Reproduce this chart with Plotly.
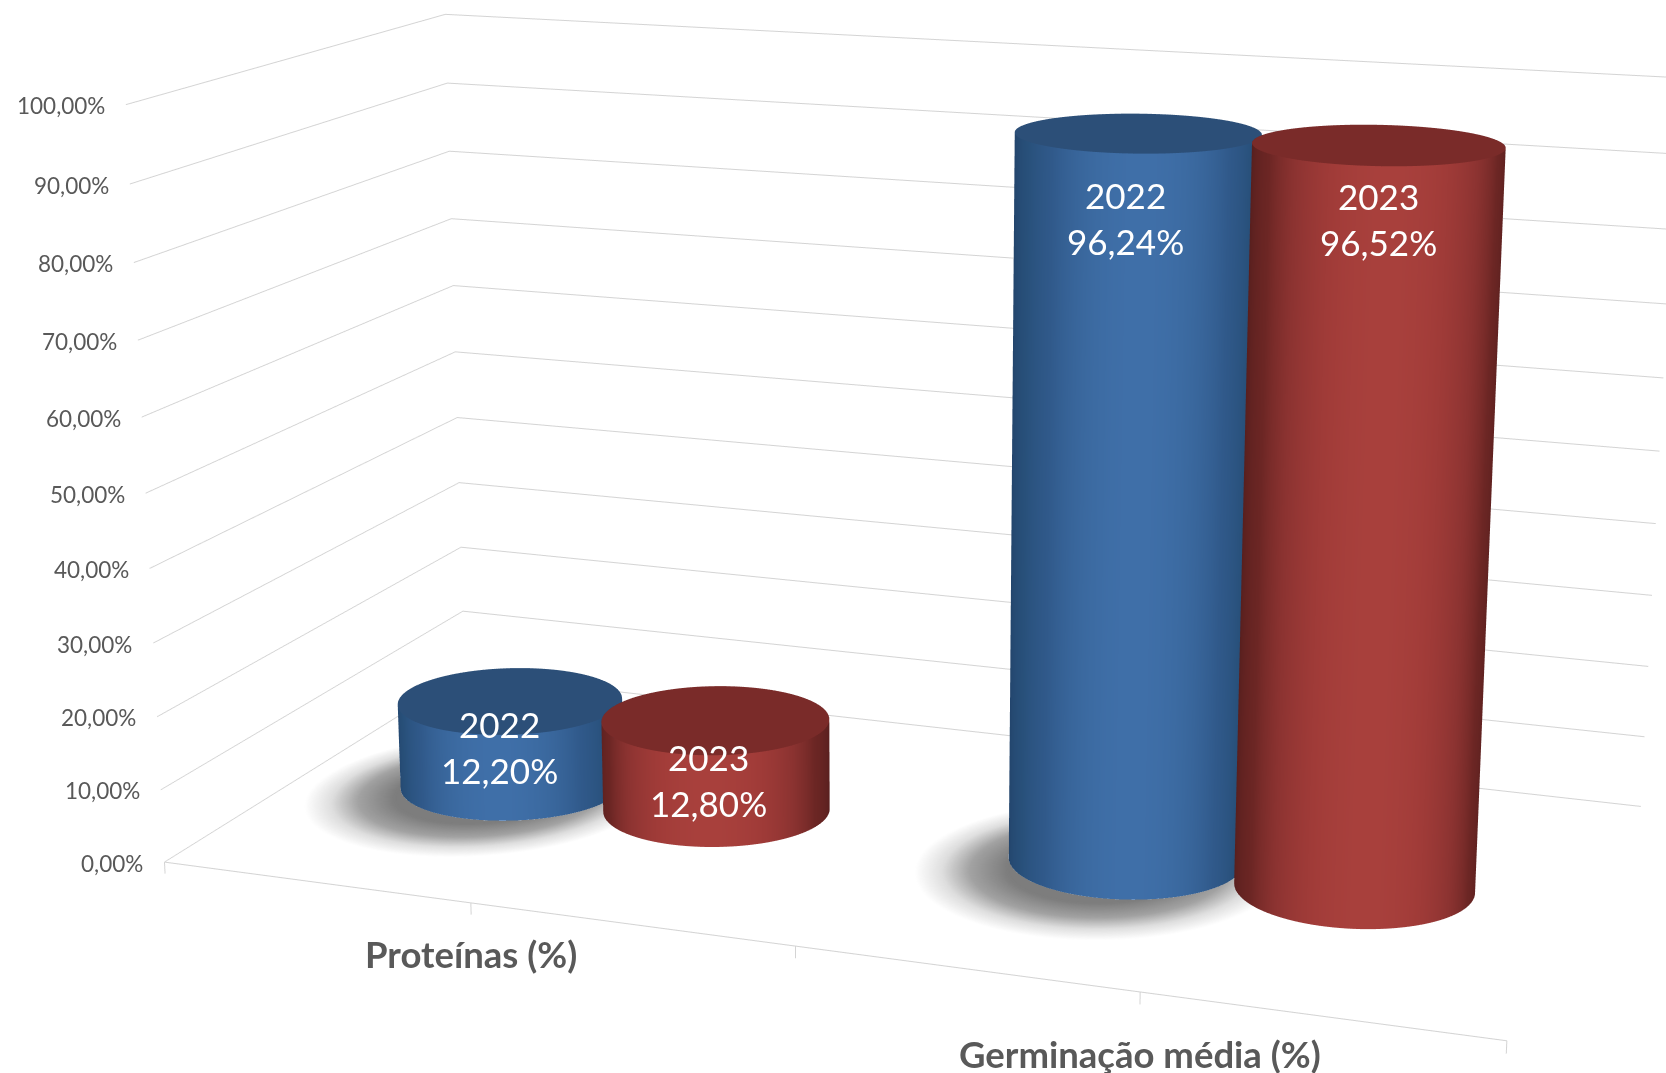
import numpy as np
import plotly.graph_objects as go

categories = ["Proteínas (%)", "Germinação média (%)"]
series_2022 = [12.20, 96.24]
series_2023 = [12.80, 96.52]
year_labels = ["2022", "2023"]
value_labels_2022 = ["12,20%", "96,24%"]
value_labels_2023 = ["12,80%", "96,52%"]
z_ticks = [0, 10, 20, 30, 40, 50, 60, 70, 80, 90, 100]
z_tick_labels = ["0,00%", "10,00%", "20,00%", "30,00%", "40,00%", "50,00%", "60,00%", "70,00%", "80,00%", "90,00%", "100,00%"]
cat_x = [1, 3]
x_edge_ticks = [0, 1, 2, 3, 4]

W, H = 1666, 1073
XR, YR, ZR = (0, 4), (0, 1), (-2, 100)

# camera matched to the reference's perspective (long lens, so the page is larger than the window)
E = np.array([1.6772, -4.6682, 1.2613])
yaw, pitch = -0.3521, -0.2680
ASPECT = (1.7448, 0.8755)
Hs, Ws, Tp, Lf = 3308, 1783, 1099, 1
fdir = np.array([np.cos(pitch)*np.sin(yaw), np.cos(pitch)*np.cos(yaw), np.sin(pitch)])
C = E + fdir*np.linalg.norm(E)

RX, RY = 0.347, 0.172
OFF = 0.345
BLUE = [[0, "#22436a"], [0.45, "#28507a"], [0.71, "#30598a"], [0.9, "#3a689e"], [1, "#3f6fa8"]]
RED = [[0, "#571f1e"], [0.45, "#6c2624"], [0.71, "#8c3331"], [0.9, "#a03b38"], [1, "#a8403c"]]
BLUE_TOP, RED_TOP = "#2c4f78", "#7a2b29"

fig = go.Figure()
flat = dict(ambient=1, diffuse=0, specular=0, fresnel=0, roughness=1)
th = np.linspace(0, 2*np.pi, 181)

def shadow(xc):
    r = np.linspace(0, 1, 40)
    T, R = np.meshgrid(th, r)
    sx, sy = RX*1.55, RY*1.75
    fig.add_trace(go.Surface(x=xc-0.05+sx*R*np.cos(T), y=0.45+sy*R*np.sin(T), z=0*R+0.01, surfacecolor=R,
        colorscale=[[0, "#7a7a7a"], [1, "#7a7a7a"]], showscale=False, cmin=0, cmax=1,
        opacityscale=[[0, 1], [0.5, 0.98], [0.7, 0.7], [0.85, 0.25], [1, 0]], lighting=flat, hoverinfo="skip"))

def cylinder(xc, v, scale, top):
    T, ZZ = np.meshgrid(th, np.array([0.0, v]))
    fig.add_trace(go.Surface(x=xc+RX*np.cos(T), y=0.5+RY*np.sin(T), z=ZZ, surfacecolor=np.cos(T+1.25),
        colorscale=scale, cmin=0, cmax=1, showscale=False, lighting=flat, hoverinfo="skip"))
    T2, R2 = np.meshgrid(th, np.array([0, 1.0]))
    fig.add_trace(go.Surface(x=xc+RX*R2*np.cos(T2), y=0.5+RY*R2*np.sin(T2), z=0*R2+v, surfacecolor=0.5+0*R2,
        colorscale=[[0, top], [1, top]], cmin=0, cmax=1, showscale=False, lighting=flat, hoverinfo="skip"))

for cx in cat_x:
    shadow(cx-OFF)
for cx, v1, v2 in zip(cat_x, series_2022, series_2023):
    cylinder(cx-OFF, v1, BLUE, BLUE_TOP)
    cylinder(cx+OFF, v2, RED, RED_TOP)

fig.add_trace(go.Scatter3d(x=[0, 4], y=[0, 0], z=[0, 0], mode="lines", line=dict(color="#d4d4d4", width=2), hoverinfo="skip"))
for t in x_edge_ticks:
    fig.add_trace(go.Scatter3d(x=[t, t], y=[0, 0], z=[0, -1.6], mode="lines", line=dict(color="#d4d4d4", width=2), hoverinfo="skip"))

ann = []
for v, t in zip(z_ticks, z_tick_labels):
    ann.append(dict(x=0, y=0, z=v, text=t, showarrow=False, xanchor="right", yanchor="middle", xshift=-19, yshift=-1,
                    font=dict(family="Lato", size=22.5, color="#595959")))
for cx, c, ys in zip(cat_x, categories, [-51, -62]):
    ann.append(dict(x=cx, y=0, z=0, text=f"<b>{c}</b>", showarrow=False, xanchor="center", yanchor="middle", yshift=ys,
                    font=dict(family="Lato", size=36.5, color="#595959")))
shifts = [(-11, -46), (-7, -60), (-13, -85), (0, -74)]
i = 0
for k, cx in enumerate(cat_x):
    for off, yr, vals, lab in ((-OFF, 0, series_2022, value_labels_2022), (OFF, 1, series_2023, value_labels_2023)):
        ann.append(dict(x=cx+off, y=0.5, z=vals[k], text=f"{year_labels[yr]}<br>{lab[k]}", showarrow=False,
                        xanchor="center", yanchor="middle", xshift=shifts[i][0], yshift=shifts[i][1],
                        font=dict(family="Lato", size=35, color="white")))
        i += 1

hidden = dict(showgrid=False, showline=False, zeroline=False, showticklabels=False, showbackground=False,
              showspikes=False, ticks="", title="")
fig.update_layout(
    width=Ws, height=Hs, margin=dict(l=0, r=0, t=0, b=0), paper_bgcolor="white", showlegend=False,
    scene=dict(
        domain=dict(x=[0, 1], y=[0, 1]),
        aspectmode="manual", aspectratio=dict(x=ASPECT[0], y=ASPECT[1], z=1),
        camera=dict(eye=dict(x=float(E[0]), y=float(E[1]), z=float(E[2])),
                    center=dict(x=float(C[0]), y=float(C[1]), z=float(C[2])),
                    up=dict(x=0, y=0, z=1), projection=dict(type="perspective")),
        xaxis=dict(range=XR, **hidden),
        yaxis=dict(range=YR, **hidden),
        zaxis=dict(range=ZR, tickvals=z_ticks, showgrid=True, gridcolor="#d4d4d4", gridwidth=2,
                   showline=False, zeroline=False, showticklabels=False, showbackground=False,
                   showspikes=False, ticks="", title=""),
        annotations=ann,
    ),
)
post = (f"document.documentElement.style.overflow='hidden';document.body.style.overflow='hidden';"
        f"document.body.style.margin='0';document.body.style.height='{H}px';document.documentElement.style.height='{H}px';"
        f"var g=document.querySelector('.plotly-graph-div');g.style.position='absolute';g.style.left='-{Lf}px';g.style.top='-{Tp}px';")
fig.write_html("out.html", post_script=post, config=dict(displayModeBar=False))
